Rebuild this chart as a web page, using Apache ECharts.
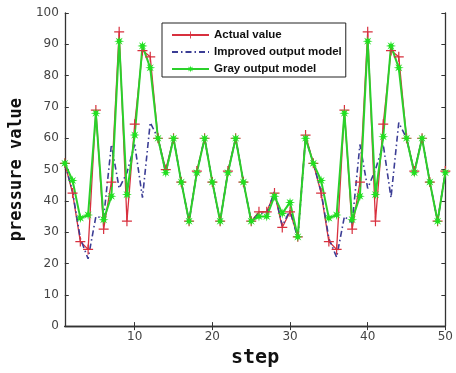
<!DOCTYPE html>
<html>
<head>
<meta charset="UTF-8">
<title>pressure value</title>
<style>
    html,body{margin:0;padding:0;background:#fff;}
    #main{width:456px;height:373px;}
</style>
</head>
<body>
<div id="main"></div>
<script src="https://cdn.jsdelivr.net/npm/echarts@6/dist/echarts.min.js"></script>
<script>
    // values, step 1..50
    let actual=[52,42.5,27,24.5,69,31,46,94,33.5,64.5,88,86,60,50,60,46,33.5,49.5,60,46,
        33.5,49.5,60,46,33.5,36.5,36.5,42.5,31.5,36.5,28.5,61,52,42.5,27,24.5,69,31,46,94,
        33.5,64.5,88,86,60,49.5,60,46,33.5,49.5];
    let improved=[52,43,28,21.5,35,34.5,58,44,49,58,41,65,60,49,60,46,33.5,49,60,46,
        33.5,49,60,46,33.5,36,36,43,32,37,28,60,52,43,28,22,35,33,58,44,
        50,58,41,65,60,49,60,46,33.5,49];
    let gray=[52,46.5,34.5,35.5,68,34,41.5,91,42,61,89.5,82.5,60,49,60,46,33.5,49,60,46,
        33.5,49,60,46,33.5,35,35,41.5,36,39.5,28.5,60,52,46.5,34.5,35.5,68,34,41.5,91,
        42,60.5,89.5,82.5,60,49,60,46,33.5,49];
    let xTicks=[10,20,30,40,50];
    let names=['Actual value','Improved output model','Gray output model'];

    function pairs(arr){
        return arr.map(function(v,i){return [i+1,v];});
    }
    function starPath(){
        let pts=[];
        for(let k=0;k<16;k++){
            let r=k%2?0.4:1;
            let a=k*Math.PI/8;
            pts.push((r*Math.cos(a)).toFixed(3)+','+(r*Math.sin(a)).toFixed(3));
        }
        return 'path://M'+pts.join('L')+'Z';
    }
    let plus='path://M4.4,0h1.2v4.4h4.4v1.2h-4.4v4.4h-1.2v-4.4h-4.4v-1.2h4.4z';

    let axisLine={show:true,lineStyle:{color:'#333',width:1.3}};
    let tickStyle={lineStyle:{color:'#333',width:1}};

    let myChart=echarts.init(document.getElementById('main'));
    let option={
        backgroundColor:'#fff',
        animation:false,
        grid:{left:62,right:10.5,top:13,bottom:35},
        legend:{
            orient:'vertical',
            left:162,top:23,
            padding:[5,4,1,9],
            itemGap:3,
            itemWidth:37,itemHeight:9,
            borderColor:'#222',borderWidth:1,
            backgroundColor:'#fff',
            textStyle:{fontFamily:'Liberation Sans',fontWeight:'bold',fontSize:11.5,color:'#111',lineHeight:14},
            data:[names[0],{name:names[1],itemStyle:{opacity:0}},names[2]]
        },
        xAxis:[{
            type:'value',min:1,max:50,
            name:'step',nameLocation:'middle',nameGap:14,
            nameTextStyle:{fontFamily:'DejaVu Sans Mono',fontWeight:'bold',fontSize:20,color:'#111'},
            axisLine:axisLine,
            axisTick:Object.assign({inside:true,length:4,customValues:xTicks},tickStyle),
            axisLabel:{customValues:xTicks,color:'#444',fontSize:12,margin:5,fontFamily:'DejaVu Sans'},
            splitLine:{show:false}
        },{
            type:'value',min:1,max:50,position:'top',
            axisLine:axisLine,
            axisTick:Object.assign({inside:true,length:4,customValues:xTicks},tickStyle),
            axisLabel:{show:false},
            splitLine:{show:false}
        }],
        yAxis:[{
            type:'value',min:0,max:100,interval:10,
            name:'pressure value',nameLocation:'middle',nameGap:23,nameRotate:90,
            nameTextStyle:{fontFamily:'DejaVu Sans Mono',fontWeight:'bold',fontSize:17,color:'#111'},
            axisLine:axisLine,
            axisTick:Object.assign({inside:true,length:4},tickStyle),
            axisLabel:{color:'#444',fontSize:12,margin:6,fontFamily:'DejaVu Sans'},
            splitLine:{show:false}
        },{
            type:'value',min:0,max:100,interval:10,position:'right',
            axisLine:axisLine,
            axisTick:Object.assign({inside:true,length:4},tickStyle),
            axisLabel:{show:false},
            splitLine:{show:false}
        }],
        series:[{
            name:names[0],type:'line',data:pairs(actual),
            symbol:plus,symbolSize:10,
            itemStyle:{color:'#d8303e'},
            lineStyle:{color:'#d8303e',width:1.3}
        },{
            name:names[1],type:'line',data:pairs(improved),
            symbol:'none',
            itemStyle:{color:'#3b3d95'},
            lineStyle:{color:'#3b3d95',width:1.6,type:[6,3,1.5,3]}
        },{
            name:names[2],type:'line',data:pairs(gray),
            symbol:starPath(),symbolSize:10,
            itemStyle:{color:'#1fe01f'},
            lineStyle:{color:'#2bd02b',width:2}
        }]
    };
    myChart.setOption(option);
</script>
</body>
</html>
